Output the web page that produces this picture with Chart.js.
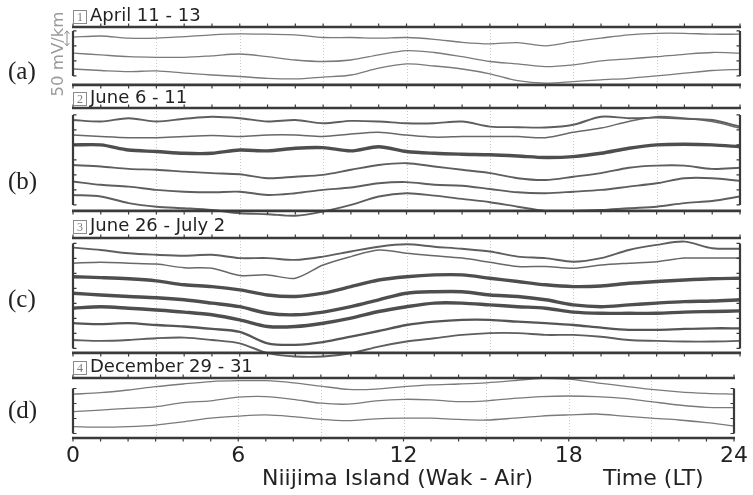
<!DOCTYPE html>
<html>
<head>
<meta charset="utf-8">
<title>Niijima Island (Wak - Air)</title>
<script src="https://cdn.jsdelivr.net/npm/chart.js@4.4.1/dist/chart.umd.min.js"></script>
<style>
  html, body { margin: 0; padding: 0; background: #fff; }
  #fig { position: relative; width: 753px; height: 495px; overflow: hidden; font-family: 'DejaVu Sans', sans-serif; }
  #fig canvas { position: absolute; left: 0; }
  .tag { position: absolute; left: 8px; font-family: 'Liberation Serif', serif; font-size: 25px; line-height: 1; color: #222; }
  .title { position: absolute; left: 73px; font-size: 18px; line-height: 1; color: #222; white-space: nowrap; }
  .title .n { display: inline-block; box-sizing: border-box; width: 14px; height: 14px; border: 1px solid #8a8a8a;
              font-family: 'Liberation Serif', serif; font-size: 12px; line-height: 12px; color: #7a7a7a;
              text-align: center; margin-right: 3px; vertical-align: 0px; }
  .unit { position: absolute; left: 57px; top: 54px; font-size: 16.5px; color: #9a9a9a; white-space: nowrap;
          transform: translate(-50%, -50%) rotate(-90deg); }
  .xlab { position: absolute; font-size: 22px; line-height: 1; color: #222; white-space: nowrap; }
</style>
</head>
<body>
<div id="fig">
  <canvas id="cvA"></canvas>
  <canvas id="cvB"></canvas>
  <canvas id="cvC"></canvas>
  <canvas id="cvD"></canvas>

  <div class="title" style="top:6px"><span class="n">1</span>April 11 - 13</div>
  <div class="title" style="top:88px"><span class="n">2</span>June 6 - 11</div>
  <div class="title" style="top:216px"><span class="n">3</span>June 26 - July 2</div>
  <div class="title" style="top:357px"><span class="n">4</span>December 29 - 31</div>

  <div class="unit">50 mV/km</div>

  <div class="tag" style="top:58px">(a)</div>
  <div class="tag" style="top:168px">(b)</div>
  <div class="tag" style="top:286px">(c)</div>
  <div class="tag" style="top:397px">(d)</div>

  <div class="xlab" style="left:262px; top:467px">Niijima Island (Wak - Air)</div>
  <div class="xlab" style="left:603px; top:467px">Time (LT)</div>
</div>

<script>
// Local time (hours) of each sample
const hours = [0, 1, 2, 3, 4, 5, 6, 7, 8, 9, 10, 11, 12, 13, 14, 15, 16, 17, 18, 19, 20, 21, 22, 23, 24];
const timeTicks = [0, 6, 12, 18, 24];
const gridHours = [3, 6, 9, 12, 15, 18, 21];

// Daily geoelectric potential traces, mV/km on each panel's stacked axis
const apr11 = [159, 163, 156, 156, 161, 167, 170, 169, 167, 158, 158, 156, 158, 152, 142, 137, 141, 130, 144, 156, 167, 172, 172, 169, 169];
const apr12 = [106, 100, 94, 92, 92, 97, 103, 94, 83, 78, 83, 100, 114, 108, 94, 78, 70, 61, 67, 80, 87, 94, 102, 108, 106];
const apr13 = [53, 48, 44, 47, 39, 33, 28, 22, 20, 26, 33, 56, 70, 63, 53, 37, 14, 6, 11, 17, 22, 30, 39, 48, 52];

const jun06 = [303, 298, 309, 298, 307, 314, 309, 298, 303, 292, 300, 298, 292, 292, 298, 281, 279, 278, 287, 314, 309, 311, 307, 303, 281];
const jun07 = [253, 248, 244, 244, 248, 251, 248, 253, 253, 248, 256, 262, 253, 246, 248, 248, 248, 244, 262, 276, 298, 314, 309, 298, 276];
const jun08 = [220, 220, 203, 198, 192, 192, 203, 200, 209, 211, 200, 214, 198, 192, 189, 187, 183, 178, 181, 192, 209, 220, 222, 220, 214];
const jun09 = [153, 148, 140, 137, 131, 126, 122, 109, 114, 120, 137, 153, 159, 148, 137, 126, 109, 103, 114, 126, 144, 151, 151, 140, 144];
const jun10 = [98, 87, 81, 70, 64, 62, 64, 53, 59, 70, 78, 92, 96, 87, 84, 73, 62, 59, 64, 70, 81, 92, 109, 109, 100];
const jun11 = [53, 48, 26, 14, 9, 3, -8, -11, -16, -2, 20, 48, 59, 51, 40, 29, 14, 0, 0, 3, 9, 14, 26, 33, 48];

const jun26 = [351, 343, 332, 327, 324, 327, 316, 316, 310, 321, 338, 354, 362, 354, 347, 338, 321, 316, 304, 316, 343, 360, 371, 349, 347];
const jun27 = [299, 302, 299, 296, 284, 282, 258, 260, 249, 293, 321, 343, 332, 324, 316, 302, 288, 288, 282, 293, 299, 304, 316, 316, 316];
const jun28 = [254, 251, 247, 240, 227, 221, 210, 193, 188, 199, 221, 243, 254, 260, 260, 249, 238, 227, 221, 223, 232, 238, 243, 247, 249];
const jun29 = [199, 193, 188, 184, 177, 166, 154, 132, 127, 136, 154, 177, 199, 204, 204, 193, 188, 177, 160, 154, 160, 166, 171, 173, 177];
const jun30 = [149, 154, 149, 143, 136, 127, 110, 88, 88, 99, 116, 138, 154, 166, 166, 160, 154, 149, 136, 132, 132, 132, 136, 138, 140];
const jul01 = [99, 96, 99, 93, 88, 80, 70, 32, 27, 36, 54, 73, 93, 104, 110, 110, 104, 99, 93, 84, 77, 77, 80, 82, 82];
const jul02 = [43, 40, 43, 49, 51, 43, 32, -1, -12, -12, -1, 21, 38, 49, 60, 66, 66, 60, 60, 54, 43, 40, 38, 38, 40];

const dec29 = [146, 151, 160, 171, 180, 188, 191, 191, 184, 173, 162, 163, 171, 177, 180, 184, 191, 199, 196, 184, 173, 162, 154, 149, 146];
const dec30 = [88, 93, 99, 104, 118, 124, 136, 138, 129, 116, 113, 124, 129, 127, 121, 124, 132, 138, 140, 138, 132, 121, 110, 102, 101];
const dec31 = [38, 36, 38, 43, 54, 66, 73, 77, 71, 62, 58, 64, 66, 66, 62, 60, 66, 73, 77, 80, 73, 66, 60, 51, 40];

// ---- layout and styling ----
const PX_PER_MV = 0.3;   // 50 mV/km spans 15 px
const PAD = 12;
const SMOOTH = { color: '#7a7a7a', width: 1.3 };
const QUIET  = { color: '#686868', width: 1.5 };
const MEDIUM = { color: '#5e5e5e', width: 1.9 };
const BUSY   = { color: '#555555', width: 2.3 };
const NOISY  = { color: '#4e4e4e', width: 3.4 };

const panels = [
  { canvas: 'cvA', top: 27,  yMax: 193, axisSpan: [30, 180], scaleBar: [130, 180],
    series: [[apr11, SMOOTH], [apr12, SMOOTH], [apr13, SMOOTH]] },
  { canvas: 'cvB', top: 108, yMax: 343, axisSpan: [20, 320],
    series: [[jun06, MEDIUM], [jun07, QUIET], [jun08, NOISY], [jun09, MEDIUM], [jun10, MEDIUM], [jun11, MEDIUM]] },
  { canvas: 'cvC', top: 238, yMax: 383, axisSpan: [15, 365],
    series: [[jun26, MEDIUM], [jun27, QUIET], [jun28, NOISY], [jun29, NOISY], [jun30, NOISY], [jul01, BUSY], [jul02, MEDIUM]] },
  { canvas: 'cvD', top: 378, yMax: 200, axisSpan: [15, 165],
    series: [[dec29, SMOOTH], [dec30, SMOOTH], [dec31, SMOOTH]] }
];

// Frame: heavy top/bottom rules with hourly ticks, dotted 3-hourly guides,
// side axes with 50 mV/km ticks and the optional scale bar.
const panelFrame = {
  id: 'panelFrame',
  beforeDatasetsDraw(chart) {
    const { ctx, chartArea: a, scales: { x } } = chart;
    ctx.save();
    ctx.strokeStyle = '#c9c9c9';
    ctx.lineWidth = 1;
    ctx.setLineDash([1, 2]);
    for (const h of gridHours) {
      const px = Math.round(x.getPixelForValue(h)) + 0.5;
      ctx.beginPath(); ctx.moveTo(px, a.top); ctx.lineTo(px, a.bottom); ctx.stroke();
    }
    ctx.restore();
  },
  afterDatasetsDraw(chart, args, opts) {
    const { ctx, scales: { x, y } } = chart;
    const x0 = x.getPixelForValue(0), x1 = x.getPixelForValue(24);
    const yTop = y.getPixelForValue(y.max), yBot = y.getPixelForValue(0);
    ctx.save();
    ctx.strokeStyle = '#3a3a3a';
    ctx.lineCap = 'butt';

    // hourly ticks pointing outwards
    ctx.lineWidth = 1.2;
    for (const h of hours) {
      const px = x.getPixelForValue(h);
      ctx.beginPath();
      ctx.moveTo(px, yTop); ctx.lineTo(px, yTop - 3.5);
      ctx.moveTo(px, yBot); ctx.lineTo(px, yBot + 3.5);
      ctx.stroke();
    }

    // top and bottom rules
    ctx.lineWidth = 2.6;
    ctx.beginPath();
    ctx.moveTo(x0 - 1, yTop); ctx.lineTo(x1 + 1, yTop);
    ctx.moveTo(x0 - 1, yBot); ctx.lineTo(x1 + 1, yBot);
    ctx.stroke();

    // side axes
    const [v0, v1] = opts.axisSpan;
    const ya = y.getPixelForValue(v0), yb = y.getPixelForValue(v1);
    ctx.lineWidth = 2.2;
    ctx.beginPath();
    ctx.moveTo(x0, ya); ctx.lineTo(x0, yb);
    ctx.moveTo(x1, ya); ctx.lineTo(x1, yb);
    ctx.stroke();
    ctx.lineWidth = 1.2;
    for (let v = v0; v <= v1; v += 50) {
      const py = y.getPixelForValue(v);
      ctx.beginPath();
      ctx.moveTo(x0, py); ctx.lineTo(x0 + 3.5, py);
      ctx.moveTo(x1, py); ctx.lineTo(x1 - 3.5, py);
      ctx.stroke();
    }

    // 50 mV/km scale bar
    if (opts.scaleBar) {
      const bx = x0 - 6;
      const s0 = y.getPixelForValue(opts.scaleBar[0]), s1 = y.getPixelForValue(opts.scaleBar[1]);
      ctx.strokeStyle = '#8c8c8c';
      ctx.lineWidth = 1;
      ctx.beginPath();
      ctx.moveTo(bx, s0); ctx.lineTo(bx, s1);
      ctx.moveTo(bx - 2.5, s1 + 3); ctx.lineTo(bx, s1); ctx.lineTo(bx + 2.5, s1 + 3);
      ctx.moveTo(bx - 2.5, s0 - 3); ctx.lineTo(bx, s0); ctx.lineTo(bx + 2.5, s0 - 3);
      ctx.stroke();
    }
    ctx.restore();
  }
};

Chart.defaults.font.family = "'DejaVu Sans', sans-serif";

panels.forEach((p, idx) => {
  const isLast = idx === panels.length - 1;
  const axisH = isLast ? 32 : 0;
  const plotH = p.yMax * PX_PER_MV;
  const cv = document.getElementById(p.canvas);
  const H = Math.round(plotH + 2 * PAD + axisH);
  cv.width = 753; cv.height = H;
  cv.style.width = '753px'; cv.style.height = H + 'px';
  cv.style.top = (p.top - PAD) + 'px';
  const padBottom = H - PAD - plotH - axisH;

  const xScale = {
    type: 'linear', min: 0, max: 24, display: isLast,
    grid: { display: false, drawTicks: false },
    border: { display: false },
    ticks: { color: '#222', font: { size: 22 }, padding: 5, maxRotation: 0, autoSkip: false },
    afterBuildTicks: s => { s.ticks = timeTicks.map(v => ({ value: v })); }
  };
  if (isLast) xScale.afterFit = s => { s.height = axisH; };

  new Chart(cv, {
    type: 'line',
    data: {
      labels: hours,
      datasets: p.series.map(([values, style]) => ({
        data: values,
        borderColor: style.color,
        borderWidth: style.width,
        pointRadius: 0,
        tension: 0.3,
        fill: false,
        clip: false
      }))
    },
    options: {
      responsive: false,
      animation: false,
      events: [],
      layout: { padding: { left: 73, right: 13, top: PAD, bottom: padBottom } },
      plugins: {
        legend: { display: false },
        tooltip: { enabled: false },
        panelFrame: { axisSpan: p.axisSpan, scaleBar: p.scaleBar || null }
      },
      scales: {
        x: xScale,
        y: { type: 'linear', min: 0, max: p.yMax, display: false }
      }
    },
    plugins: [panelFrame]
  });
});
</script>
</body>
</html>
